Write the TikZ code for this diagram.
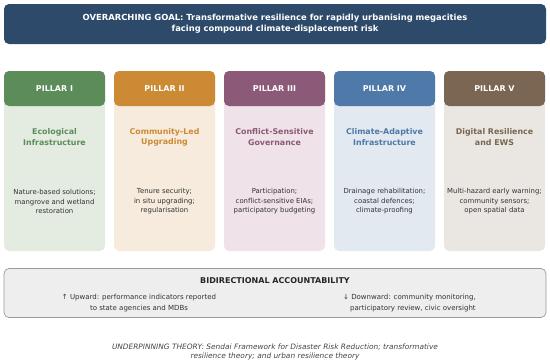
\documentclass[tikz,border=0pt]{standalone}
\usepackage{fontspec}
\setmainfont{DejaVu Sans}
\usetikzlibrary{positioning}
\definecolor{goalc}{HTML}{2D4A6B}
\definecolor{h1}{HTML}{5B8C5A}\definecolor{b1}{HTML}{E4ECE2}
\definecolor{h2}{HTML}{CC8A35}\definecolor{b2}{HTML}{F6EBDC}
\definecolor{h3}{HTML}{8B5A78}\definecolor{b3}{HTML}{EFE2E8}
\definecolor{h4}{HTML}{4E79A8}\definecolor{b4}{HTML}{E2E9F1}
\definecolor{h5}{HTML}{7A6652}\definecolor{b5}{HTML}{EAE7E2}
\definecolor{desc}{HTML}{333333}
\definecolor{accf}{HTML}{EEEEEE}\definecolor{accd}{HTML}{9A9A9A}
\definecolor{theo}{HTML}{444444}
\tikzset{
  goalbox/.style={fill=goalc, rounded corners=5pt, minimum width=542pt, minimum height=40pt, inner sep=0pt},
  bodybox/.style={rounded corners=5pt, minimum width=101pt, minimum height=180pt, inner sep=0pt},
  headbox/.style={rounded corners=5pt, minimum width=101pt, minimum height=35pt, inner sep=0pt, text=white, font=\fontsize{8}{9}\selectfont\bfseries},
  ptitle/.style={align=center, font=\fontsize{7.9}{10.3}\selectfont\bfseries},
  pdesc/.style={align=center, text=desc, font=\fontsize{6.9}{9.5}\selectfont},
  accbox/.style={fill=accf, draw=accd, line width=0.7pt, rounded corners=5pt, minimum width=542pt, minimum height=49pt, inner sep=0pt},
  acctext/.style={text=desc, font=\fontsize{7}{10.2}\selectfont},
}
\begin{document}
\begin{tikzpicture}[x=1pt,y=-1pt]
\useasboundingbox (0,0) rectangle (550,362);
\node[goalbox] (goal) at (275,24) {};
\node[align=center, text=white, font=\fontsize{8.4}{11}\selectfont\bfseries] (goaltxt) at (goal.center) {OVERARCHING GOAL: Transformative resilience for rapidly urbanising megacities\\facing compound climate-displacement risk};
% pillars
\foreach \i/\cx/\hd/\ti/\de in {
  1/54.5/PILLAR I/{Ecological\\Infrastructure}/{Nature-based solutions;\\mangrove and wetland\\restoration},
  2/164.5/PILLAR II/{Community-Led\\Upgrading}/{Tenure security;\\in situ upgrading;\\regularisation},
  3/274.5/PILLAR III/{Conflict-Sensitive\\Governance}/{Participation;\\conflict-sensitive EIAs;\\participatory budgeting},
  4/384.5/PILLAR IV/{Climate-Adaptive\\Infrastructure}/{Drainage rehabilitation;\\coastal defences;\\climate-proofing},
  5/494.5/PILLAR V/{Digital Resilience\\and EWS}/{Multi-hazard early warning;\\community sensors;\\open spatial data}}
{
  \node[bodybox, fill=b\i] (p\i b) at (\cx,161) {};
  \node[headbox, fill=h\i] (p\i h) at (\cx,88.5) {\hd};
  \node[ptitle, text=h\i] (p\i t) at (\cx,137) {\ti};
  \node[pdesc] (p\i d) at (\cx,201.5) {\de};
}
% accountability
\node[accbox] (acc) at (275,293) {};
\node[font=\fontsize{8}{9}\selectfont\bfseries, text=black!85] (acct) at (275,280.5) {BIDIRECTIONAL ACCOUNTABILITY};
\node[acctext, align=center] (up) at (139,303) {↑ Upward: performance indicators reported\\to state agencies and MDBs};
\node[acctext, align=left, anchor=west, inner sep=0pt] (down) at (343,303) {↓ Downward: community monitoring,\\\hspace{7pt}participatory review, civic oversight};
% theory
\node[align=center, text=theo, font=\fontsize{7.4}{9.8}\selectfont\itshape] (theory) at (275,352) {UNDERPINNING THEORY: Sendai Framework for Disaster Risk Reduction; transformative\\resilience theory; and urban resilience theory};
\end{tikzpicture}
\end{document}
